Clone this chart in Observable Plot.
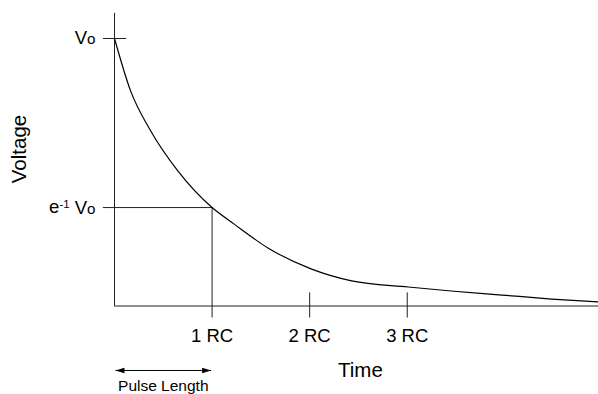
<!DOCTYPE html>
<html>
<head>
<meta charset="utf-8">
<script src="https://cdn.jsdelivr.net/npm/d3@7"></script>
<script src="https://cdn.jsdelivr.net/npm/@observablehq/plot@0.6"></script>
<style>
  html, body { margin: 0; padding: 0; background: #fff; }
</style>
</head>
<body>
<div id="chart"></div>
<script>
// Curve: time in RC units, voltage as fraction of Vo
const timeRC  = [0, 0.164, 0.37, 0.647, 1, 1.223, 1.572, 2.014, 2.43, 3.01, 3.45, 3.97, 4.48, 4.96];
const voltage = [1, 0.805, 0.655, 0.506, 0.368, 0.307, 0.217, 0.139, 0.094, 0.071, 0.056, 0.041, 0.026, 0.015];

// Tick values and labels
const xTicks = [1, 2, 3];
const xTickLabels = ["1 RC", "2 RC", "3 RC"];
const yTicks = [1, 0.368];
const yTickLabels = ["Vo", "e-1 Vo"];

// Titles / annotation text
const xTitle = "Time";
const yTitle = "Voltage";
const pulseLabel = "Pulse Length";
const pulseLength = [0, 1]; // pulse spans 0 .. 1 RC

const points = timeRC.map((t, i) => ({t, v: voltage[i]}));
const xLab = new Map(xTicks.map((d, i) => [d, xTickLabels[i]]));
const yLab = new Map(yTicks.map((d, i) => [d, yTickLabels[i]]));

const tMax = timeRC[timeRC.length - 1];
const arrowY = -0.241;

const headShape = {
  draw(context, l, r) {
    context.moveTo(0, -l);
    context.lineTo(r, 0);
    context.lineTo(-r, 0);
    context.closePath();
  }
};

const chart = Plot.plot({
  width: 598,
  height: 394,
  marginLeft: 114,
  marginRight: 0,
  marginTop: 38,
  marginBottom: 88.5,
  x: {domain: [0, tMax]},
  y: {domain: [0, 1]},
  style: {fontFamily: "'Liberation Sans', Arial, Helvetica, sans-serif", color: "black", background: "white"},
  marks: [
    // axes lines
    Plot.ruleX([0], {y1: 0, y2: 1.094, stroke: "#222", strokeWidth: 1}),
    Plot.ruleY([0], {x1: 0, x2: tMax, stroke: "#222", strokeWidth: 1}),
    // y tick guide lines
    Plot.ruleY([yTicks[0]], {x1: -0.114, x2: 0.124, stroke: "#222"}),
    Plot.ruleY([yTicks[1]], {x1: -0.114, x2: xTicks[0], stroke: "#222"}),
    // x tick marks
    Plot.ruleX([xTicks[0]], {y1: -0.045, y2: yTicks[1], stroke: "#222"}),
    Plot.ruleX(xTicks.slice(1), {y1: -0.045, y2: 0.049, stroke: "#222"}),
    // decay curve
    Plot.line(points, {x: "t", y: "v", curve: "monotone-x", stroke: "black", strokeWidth: 1.2}),
    // axis labels
    Plot.axisX(xTicks, {tickSize: 0, tickPadding: 23, tickFormat: d => xLab.get(d), fontSize: 18.5, label: null}),
    Plot.axisY(yTicks, {tickSize: 0, tickPadding: 19, tickFormat: d => yLab.get(d), fontSize: 18.5, label: null}),
    Plot.text([xTitle], {x: 2.52, y: -0.24, text: d => d, fontSize: 20.5, textAnchor: "middle"}),
    Plot.text([yTitle], {x: -0.973, y: 0.587, text: d => d, fontSize: 20.5, rotate: -90, textAnchor: "middle"}),
    // pulse length arrow
    Plot.link([pulseLength], {x1: d => d[0] + 0.01, x2: d => d[1] - 0.01, y1: arrowY, y2: arrowY, stroke: "black", strokeWidth: 1}),
    Plot.vector([pulseLength[0] + 0.01], {x: d => d, y: arrowY, rotate: -90, length: 9, r: 2.8, anchor: "end", shape: headShape, fill: "black", stroke: "none"}),
    Plot.vector([pulseLength[1] - 0.01], {x: d => d, y: arrowY, rotate: 90, length: 9, r: 2.8, anchor: "end", shape: headShape, fill: "black", stroke: "none"}),
    Plot.text([pulseLabel], {x: 0.5, y: -0.3, text: d => d, fontSize: 15.5, textAnchor: "middle"})
  ]
});

// Superscript / small-letter styling of the y tick labels
d3.select(chart).selectAll('[aria-label="y-axis tick label"] text').each(function() {
  const sel = d3.select(this);
  const s = sel.text();
  sel.text(null);
  if (s.startsWith("e-1")) {
    sel.append("tspan").text("e");
    sel.append("tspan").attr("font-size", "0.62em").attr("dy", "-0.45em").text("-1");
    sel.append("tspan").attr("dy", "0.28em").text("\u00a0V");
    sel.append("tspan").attr("font-size", "0.82em").text("o");
  } else {
    sel.append("tspan").text("V");
    sel.append("tspan").attr("font-size", "0.82em").text("o");
  }
});

document.getElementById("chart").appendChild(chart);
</script>
</body>
</html>
